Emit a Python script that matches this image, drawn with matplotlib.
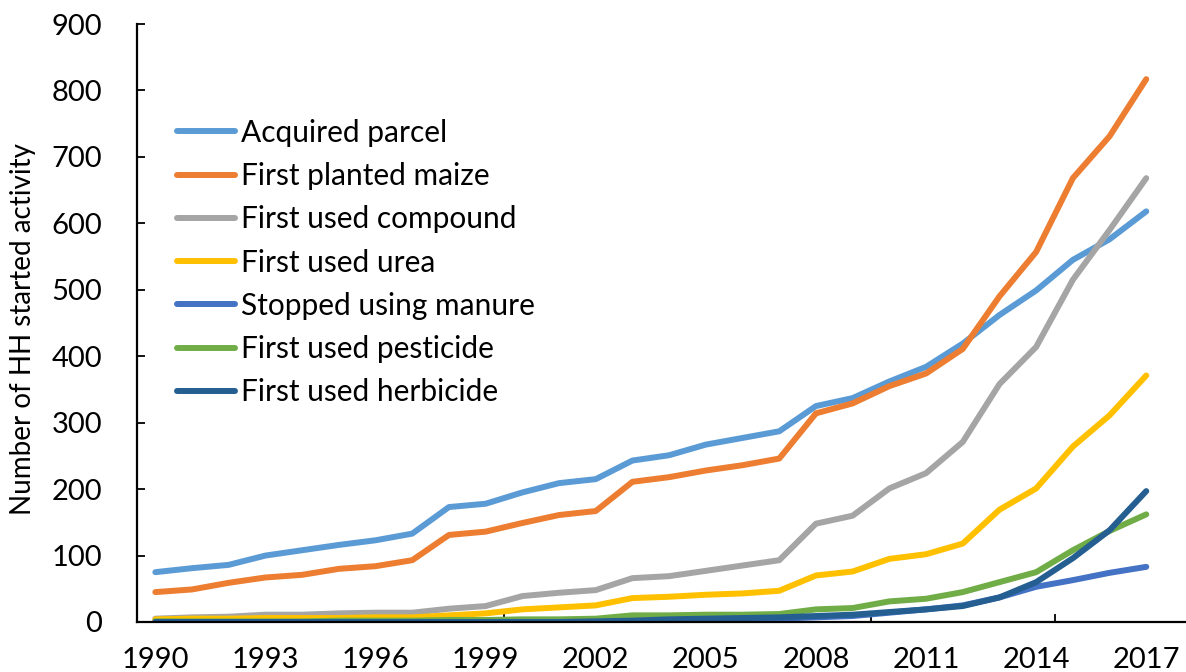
import matplotlib
matplotlib.use("Agg")
import matplotlib.pyplot as plt
import numpy as np

plt.rcParams['font.family'] = ['Lato', 'DejaVu Sans']

# data
years = list(range(1990, 2018))
acquired = [75, 81, 86, 100, 108, 116, 123, 133, 173, 178, 195, 209, 215, 243, 251, 267, 277, 287,
            325, 337, 362, 384, 419, 462, 499, 545, 576, 618]
maize = [45, 49, 59, 67, 71, 80, 84, 93, 131, 136, 149, 161, 167, 211, 218, 228, 236, 246,
         314, 329, 355, 374, 411, 490, 557, 668, 731, 817]
compound = [5, 7, 8, 11, 11, 13, 14, 14, 20, 24, 39, 44, 48, 66, 69, 77, 85, 93,
            148, 160, 201, 224, 271, 358, 414, 515, 590, 668]
urea = [4, 5, 5, 6, 6, 6, 7, 7, 10, 13, 19, 22, 25, 36, 38, 41, 43, 47,
        70, 76, 95, 102, 118, 169, 201, 264, 311, 371]
manure = [0, 0, 0, 0, 0, 0, 0, 0, 0, 0, 1, 1, 1, 2, 2, 3, 4, 5,
          7, 9, 14, 19, 25, 37, 53, 63, 74, 83]
pesticide = [1, 1, 1, 1, 1, 2, 2, 2, 3, 3, 4, 4, 5, 10, 10, 11, 11, 12,
             19, 21, 31, 35, 45, 60, 75, 108, 137, 162]
herbicide = [0, 0, 0, 0, 0, 0, 0, 0, 0, 0, 0, 0, 1, 2, 4, 5, 6, 7,
             9, 11, 15, 19, 24, 37, 60, 96, 138, 197]

series = [acquired, maize, compound, urea, manure, pesticide, herbicide]
labels = ['Acquired parcel', 'First planted maize', 'First used compound', 'First used urea',
          'Stopped using manure', 'First used pesticide', 'First used herbicide']
colors = ['#5B9BD5', '#ED7D31', '#A5A5A5', '#FFC000', '#4472C4', '#70AD47', '#255E91']

W, H = 1186, 672
fig = plt.figure(figsize=(W / 100, H / 100), dpi=100)

# axes placed in pixel terms, x axis runs past the right edge like the reference
left, bottom, top = 137, 622, 24
px_per_year = 36.7
width = 29 * px_per_year
ax = fig.add_axes([left / W, (H - bottom) / H, width / W, (bottom - top) / H])

for vals, lab, col in zip(series, labels, colors):
    ax.plot(years, vals, color=col, lw=4.3, label=lab, solid_capstyle='round',
            solid_joinstyle='round')

ax.set_xlim(1989.5, 2018.5)
ax.set_ylim(0, 900)

ax.set_yticks(np.arange(0, 901, 100))
ax.tick_params(axis='y', direction='in', length=6, width=1.3, labelsize=21, pad=25)

ax.set_xticks(years[::3])
ax.set_xticks(np.arange(1989.5, 2019, 5), minor=True)
ax.tick_params(axis='x', which='major', length=0, labelsize=21, pad=18)
ax.tick_params(axis='x', which='minor', direction='in', length=6, width=1.3)

for side in ['top', 'right']:
    ax.spines[side].set_visible(False)
for side in ['left', 'bottom']:
    ax.spines[side].set_linewidth(1.6)

ax.set_ylabel('Number of HH started activity', fontsize=20)
ax.yaxis.set_label_coords((36 - left) / width, 0.49)

leg = ax.legend(loc='upper left', bbox_to_anchor=(150 / W, 1 - 92 / H),
                bbox_transform=fig.transFigure, frameon=False, fontsize=21.5,
                handlelength=1.95, handletextpad=0.2, labelspacing=0.51)

fig.savefig('out.png', dpi=100)
